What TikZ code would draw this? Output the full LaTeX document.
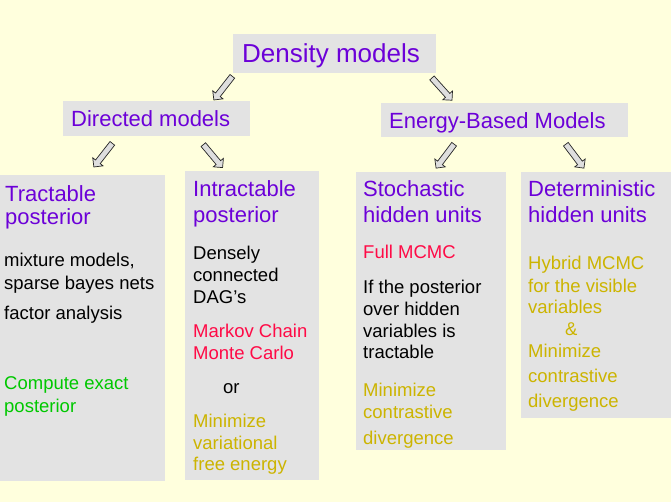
\documentclass[tikz,border=0pt]{standalone}
\usepackage{fontspec}
\setmainfont{Liberation Sans}
\usetikzlibrary{shapes.arrows}
\definecolor{bgyellow}{RGB}{255,255,221}
\definecolor{boxgray}{RGB}{227,227,227}
\definecolor{headpurple}{RGB}{108,0,216}
\definecolor{mcred}{RGB}{255,10,70}
\definecolor{exgreen}{RGB}{0,200,0}
\definecolor{minolive}{RGB}{204,180,0}
\definecolor{arrowgray}{RGB}{222,222,222}

\begin{document}
\begin{tikzpicture}[x=1pt,y=-1pt,
  panel/.style={fill=boxgray, inner sep=0pt, anchor=north west},
  txt/.style={anchor=base west, inner sep=0pt},
  bigfont/.style={font=\fontsize{26}{30}\selectfont, text=headpurple},
  headfont/.style={font=\fontsize{22}{26}\selectfont, text=headpurple},
  bodyfont/.style={font=\fontsize{18.5}{22}\selectfont},
  blockarrow/.style={single arrow, draw=black!85, fill=arrowgray, line width=0.7pt,
    minimum height=30pt, inner sep=2.6pt, single arrow head extend=3.6pt}]

\fill[bgyellow] (0,0) rectangle (671,502);
\useasboundingbox (0,0) rectangle (671,502);

% grey panels
\node[panel, minimum width=203pt, minimum height=39pt] (densbox) at (233,34) {};
\node[panel, minimum width=187pt, minimum height=35pt] (dirbox) at (63,101) {};
\node[panel, minimum width=247pt, minimum height=34pt] (ebmbox) at (381,103) {};
\node[panel, minimum width=165pt, minimum height=306pt] (trbox) at (0,175) {};
\node[panel, minimum width=134pt, minimum height=309pt] (inbox) at (185,171) {};
\node[panel, minimum width=150pt, minimum height=278pt] (stbox) at (356,172) {};
\node[panel, minimum width=150pt, minimum height=246pt] (debox) at (521,172) {};

% headings
\node[txt, bigfont] (denslbl) at (242,63) {Density models};
\node[txt, headfont] (dirlbl) at (71,127) {Directed models};
\node[txt, headfont] (ebmlbl) at (389,129) {Energy-Based Models};

% block arrows
\node[blockarrow, rotate=-128] (a1) at (224,87) {};
\node[blockarrow, rotate=-48] (a2) at (441,88) {};
\node[blockarrow, rotate=-128] (a3) at (104,154) {};
\node[blockarrow, rotate=-50] (a4) at (212,155) {};
\node[blockarrow, rotate=-127] (a5) at (446,155) {};
\node[blockarrow, rotate=-53] (a6) at (574,155) {};

% tractable posterior
\foreach \yy/\wrd [count=\i] in {202/Tractable, 225/posterior}
  \node[txt, headfont] (trh\i) at (5,\yy) {\wrd};
\foreach \yy/\wrd [count=\i] in {266/{mixture models,}, 289/{sparse bayes nets}, 319/{factor analysis}}
  \node[txt, bodyfont] (trb\i) at (4,\yy) {\wrd};
\foreach \yy/\wrd [count=\i] in {389/{Compute exact}, 412/posterior}
  \node[txt, bodyfont, text=exgreen] (trg\i) at (4,\yy) {\wrd};

% intractable posterior
\foreach \yy/\wrd [count=\i] in {197/Intractable, 223/posterior}
  \node[txt, headfont] (inh\i) at (193,\yy) {\wrd};
\foreach \yy/\wrd [count=\i] in {260/Densely, 281/connected, 303/DAG’s}
  \node[txt, bodyfont] (inb\i) at (193,\yy) {\wrd};
\foreach \yy/\wrd [count=\i] in {337/{Markov Chain}, 359/{Monte Carlo}}
  \node[txt, bodyfont, text=mcred] (inr\i) at (193,\yy) {\wrd};
\node[txt, bodyfont] (inor) at (223,393) {or};
\foreach \yy/\wrd [count=\i] in {427/Minimize, 449/variational, 470/{free energy}}
  \node[txt, bodyfont, text=minolive] (iny\i) at (193,\yy) {\wrd};

% stochastic hidden units
\foreach \yy/\wrd [count=\i] in {197/Stochastic, 223/{hidden units}}
  \node[txt, headfont] (sth\i) at (363,\yy) {\wrd};
\node[txt, bodyfont, text=mcred] (str1) at (363,259) {Full MCMC};
\foreach \yy/\wrd [count=\i] in {294/{If the posterior}, 315/{over hidden}, 337/{variables is}, 358/tractable}
  \node[txt, bodyfont] (stb\i) at (363,\yy) {\wrd};
\foreach \yy/\wrd [count=\i] in {396/Minimize, 418/contrastive, 444/divergence}
  \node[txt, bodyfont, text=minolive] (sty\i) at (363,\yy) {\wrd};

% deterministic hidden units
\foreach \yy/\wrd [count=\i] in {197/Deterministic, 223/{hidden units}}
  \node[txt, headfont] (deh\i) at (528,\yy) {\wrd};
\foreach \yy/\wrd [count=\i] in {270/{Hybrid MCMC}, 292/{for the visible}, 313/variables}
  \node[txt, bodyfont, text=minolive] (dey\i) at (528,\yy) {\wrd};
\node[txt, bodyfont, text=minolive] (deamp) at (565,335) {\&};
\foreach \yy/\wrd [count=\i] in {357/Minimize, 382/contrastive, 407/divergence}
  \node[txt, bodyfont, text=minolive] (dez\i) at (528,\yy) {\wrd};
\end{tikzpicture}
\end{document}
